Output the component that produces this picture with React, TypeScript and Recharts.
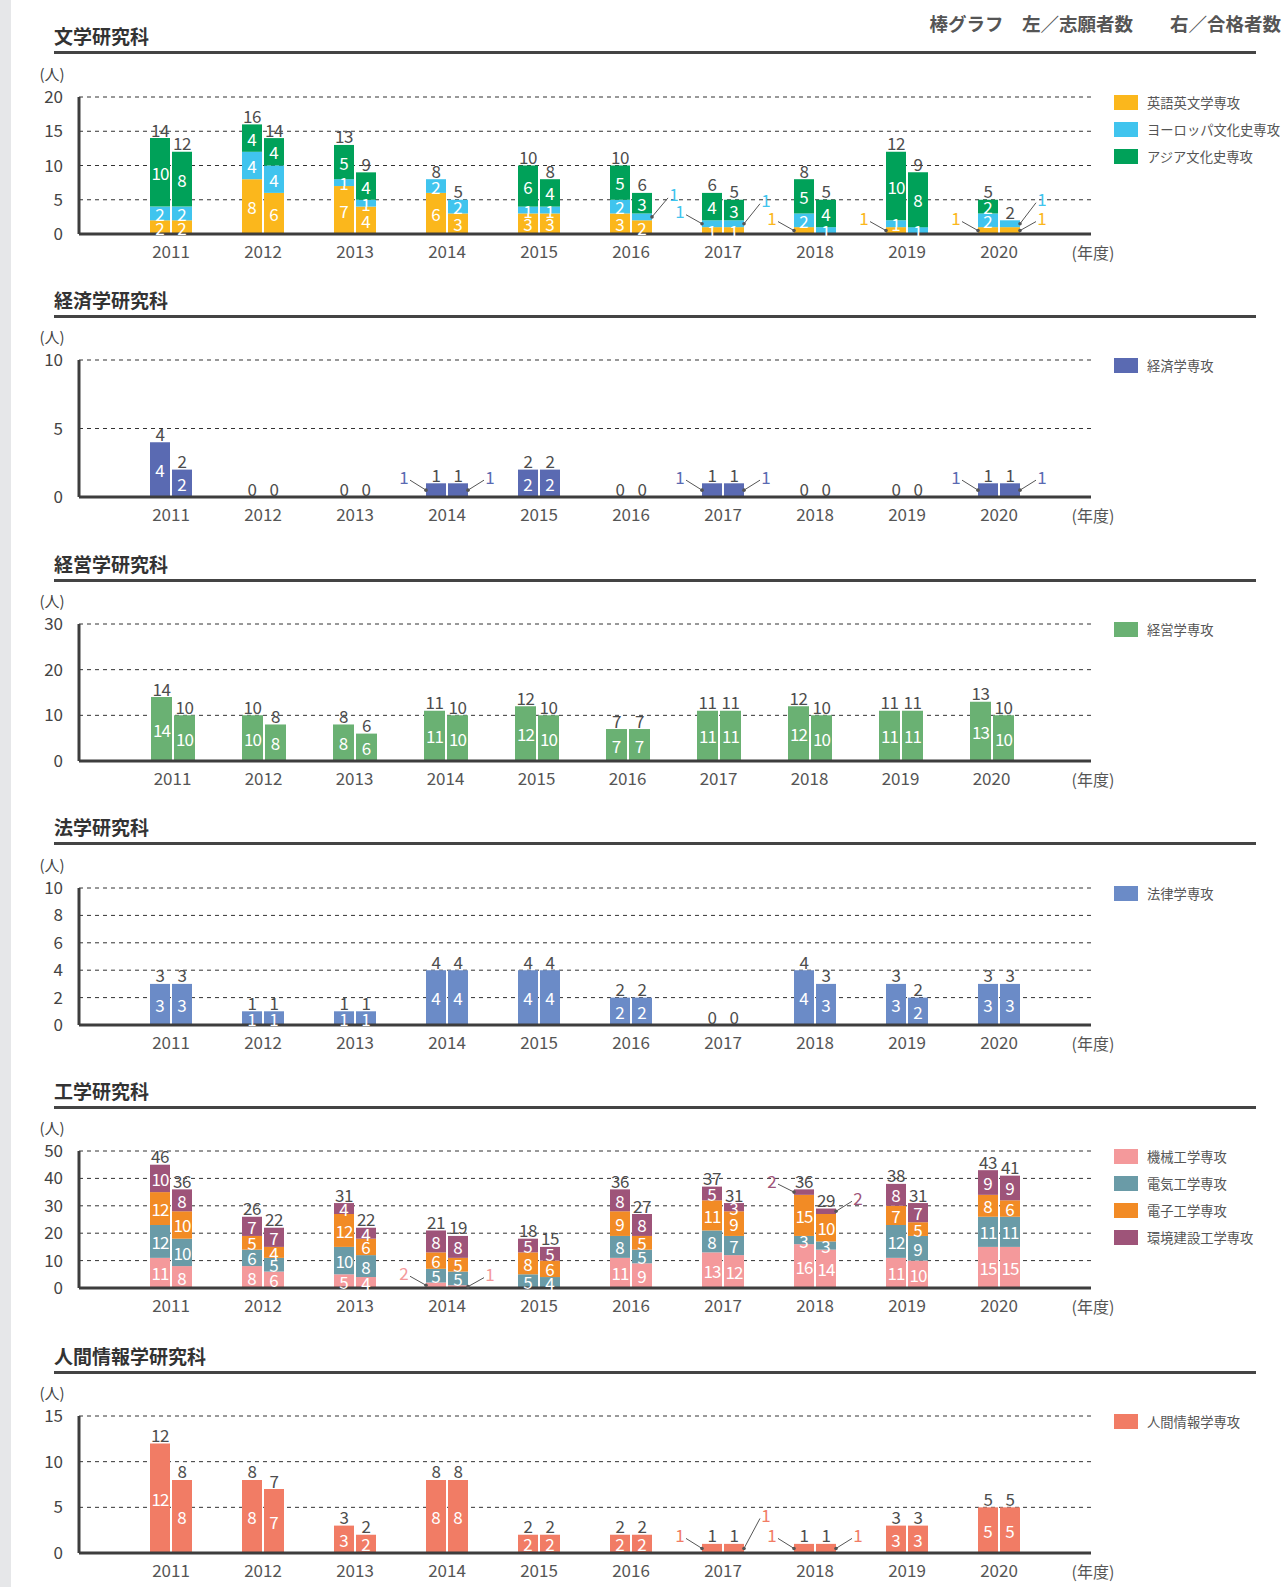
import React from "react";
import { BarChart, Bar, XAxis, YAxis, CartesianGrid, Legend, LabelList, Label } from "recharts";

const FONT = '"Noto Sans CJK JP", "Noto Sans", sans-serif';

const years = ["2011", "2012", "2013", "2014", "2015", "2016", "2017", "2018", "2019", "2020"];

// 文学研究科 (app = 志願者数, pass = 合格者数)
const bunEigoApp = [2, 8, 7, 6, 3, 3, 1, 1, 1, 1];
const bunEigoPass = [2, 6, 4, 3, 3, 2, 1, 0, 0, 1];
const bunEuroApp = [2, 4, 1, 2, 1, 2, 1, 2, 1, 2];
const bunEuroPass = [2, 4, 1, 2, 1, 1, 1, 1, 1, 1];
const bunAsiaApp = [10, 4, 5, 0, 6, 5, 4, 5, 10, 2];
const bunAsiaPass = [8, 4, 4, 0, 4, 3, 3, 4, 8, 0];

// 経済学研究科
const keizaiApp = [4, 0, 0, 1, 2, 0, 1, 0, 0, 1];
const keizaiPass = [2, 0, 0, 1, 2, 0, 1, 0, 0, 1];

// 経営学研究科
const keieiApp = [14, 10, 8, 11, 12, 7, 11, 12, 11, 13];
const keieiPass = [10, 8, 6, 10, 10, 7, 11, 10, 11, 10];

// 法学研究科
const houApp = [3, 1, 1, 4, 4, 2, 0, 4, 3, 3];
const houPass = [3, 1, 1, 4, 4, 2, 0, 3, 2, 3];

// 工学研究科
const kikaiApp = [11, 8, 5, 2, 0, 11, 13, 16, 11, 15];
const kikaiPass = [8, 6, 4, 1, 0, 9, 12, 14, 10, 15];
const denkiApp = [12, 6, 10, 5, 5, 8, 8, 3, 12, 11];
const denkiPass = [10, 5, 8, 5, 4, 5, 7, 3, 9, 11];
const denshiApp = [12, 5, 12, 6, 8, 9, 11, 15, 7, 8];
const denshiPass = [10, 4, 6, 5, 6, 5, 9, 10, 5, 6];
const kankyoApp = [10, 7, 4, 8, 5, 8, 5, 2, 8, 9];
const kankyoPass = [8, 7, 4, 8, 5, 8, 3, 2, 7, 9];
// totals as printed above the bars
const kogakuAppTotals = [46, 26, 31, 21, 18, 36, 37, 36, 38, 43];
const kogakuPassTotals = [36, 22, 22, 19, 15, 27, 31, 29, 31, 41];

// 人間情報学研究科
const ningenApp = [12, 8, 3, 8, 2, 2, 1, 1, 3, 5];
const ningenPass = [8, 7, 2, 8, 2, 2, 1, 1, 3, 5];

type Seg = { key: string; name: string; color: string; app: number[]; pass: number[] };
type Callout = { year: string; side: "a" | "p"; key: string; lift: number };

const bunSegs: Seg[] = [
  { key: "eigo", name: "英語英文学専攻", color: "#fbb71c", app: bunEigoApp, pass: bunEigoPass },
  { key: "euro", name: "ヨーロッパ文化史専攻", color: "#40c4ee", app: bunEuroApp, pass: bunEuroPass },
  { key: "asia", name: "アジア文化史専攻", color: "#00a159", app: bunAsiaApp, pass: bunAsiaPass },
];
const keizaiSegs: Seg[] = [{ key: "keizai", name: "経済学専攻", color: "#5a6ab2", app: keizaiApp, pass: keizaiPass }];
const keieiSegs: Seg[] = [{ key: "keiei", name: "経営学専攻", color: "#6ab173", app: keieiApp, pass: keieiPass }];
const houSegs: Seg[] = [{ key: "hou", name: "法律学専攻", color: "#6b8bc7", app: houApp, pass: houPass }];
const kogakuSegs: Seg[] = [
  { key: "kikai", name: "機械工学専攻", color: "#f4999b", app: kikaiApp, pass: kikaiPass },
  { key: "denki", name: "電気工学専攻", color: "#6a9ba7", app: denkiApp, pass: denkiPass },
  { key: "denshi", name: "電子工学専攻", color: "#f28b25", app: denshiApp, pass: denshiPass },
  { key: "kankyo", name: "環境建設工学専攻", color: "#9e5479", app: kankyoApp, pass: kankyoPass },
];
const ningenSegs: Seg[] = [{ key: "ningen", name: "人間情報学専攻", color: "#f17c65", app: ningenApp, pass: ningenPass }];

// thin segments labelled outside with a leader line
const bunCallouts: Callout[] = [
  { year: "2016", side: "p", key: "euro", lift: 23 },
  { year: "2017", side: "a", key: "euro", lift: 13 },
  { year: "2017", side: "p", key: "euro", lift: 24 },
  { year: "2018", side: "a", key: "eigo", lift: 13 },
  { year: "2019", side: "a", key: "eigo", lift: 13 },
  { year: "2020", side: "a", key: "eigo", lift: 13 },
  { year: "2020", side: "p", key: "euro", lift: 25 },
  { year: "2020", side: "p", key: "eigo", lift: 13 },
];
const keizaiCallouts: Callout[] = ["2014", "2017", "2020"].flatMap((year) => [
  { year, side: "a" as const, key: "keizai", lift: 14 },
  { year, side: "p" as const, key: "keizai", lift: 14 },
]);
const kogakuCallouts: Callout[] = [
  { year: "2014", side: "a", key: "kikai", lift: 13 },
  { year: "2014", side: "p", key: "kikai", lift: 13 },
  { year: "2018", side: "a", key: "kankyo", lift: 12 },
  { year: "2018", side: "p", key: "kankyo", lift: 14 },
];
const ningenCallouts: Callout[] = [
  { year: "2017", side: "a", key: "ningen", lift: 14 },
  { year: "2017", side: "p", key: "ningen", lift: 34 },
  { year: "2018", side: "a", key: "ningen", lift: 14 },
  { year: "2018", side: "p", key: "ningen", lift: 14 },
];

const TOP_M = 40;
const PLOT_H = 137;
const AXIS_H = 30;
const TXT = "#4d4d4d";

function box(lp: any) {
  const vb = lp.viewBox ?? lp;
  const x = Number(vb.x);
  const y = Number(vb.y);
  const w = Number(vb.width);
  const h = Number(vb.height);
  return { x, w, top: Math.min(y, y + h), cy: y + h / 2 };
}

type PanelProps = {
  title: string;
  lineY: number;
  plotTop: number;
  yMax: number;
  ticks: number[];
  segs: Seg[];
  appTotals?: number[];
  passTotals?: number[];
  callouts?: Callout[];
  barSize?: number;
  pad?: [number, number];
};

function Panel(p: PanelProps) {
  const callouts = p.callouts ?? [];
  const rows = years.map((year, i) => {
    // cap_* is an empty carrier at the top of each stack for the total label
    const row: Record<string, string | number> = { year, cap_a: 0, cap_p: 0 };
    p.segs.forEach((s) => {
      row[s.key + "_a"] = s.app[i];
      row[s.key + "_p"] = s.pass[i];
    });
    return row;
  });
  const appTotals = p.appTotals ?? years.map((_, i) => p.segs.reduce((t, s) => t + s.app[i], 0));
  const passTotals = p.passTotals ?? years.map((_, i) => p.segs.reduce((t, s) => t + s.pass[i], 0));
  const pad = p.pad ?? [46, 46];

  const segLabel = (s: Seg, side: "a" | "p") => (lp: any) => {
    const i = years.indexOf(String(lp.value));
    if (i < 0) return null;
    const v = (side === "a" ? s.app : s.pass)[i];
    if (!v) return null;
    const { x, w, cy } = box(lp);
    const c = callouts.find((c) => c.year === years[i] && c.side === side && c.key === s.key);
    if (c) {
      const dir = side === "a" ? -1 : 1;
      const edge = side === "a" ? x : x + w;
      const lx = edge + dir * 22;
      const ly = cy - c.lift;
      return (
        <g>
          <line x1={edge} y1={cy} x2={lx - dir * 6} y2={ly + 4} stroke="#555" strokeWidth={1} />
          <circle cx={edge} cy={cy} r={1.8} fill="#555" />
          <text x={lx} y={ly} textAnchor="middle" dominantBaseline="central" fontSize={17} fill={s.color}>
            {v}
          </text>
        </g>
      );
    }
    return (
      <text
        x={x + w / 2}
        y={cy}
        textAnchor="middle"
        dominantBaseline="central"
        fontSize={17}
        fill="#fff"
        letterSpacing={v >= 10 ? -1 : 0}
      >
        {v}
      </text>
    );
  };

  const totalLabel = (totals: number[]) => (lp: any) => {
    const i = years.indexOf(String(lp.value));
    if (i < 0) return null;
    const { x, w, top } = box(lp);
    return (
      <text x={x + w / 2} y={top - 8} textAnchor="middle" dominantBaseline="central" fontSize={17} fill={TXT} letterSpacing={-0.5}>
        {totals[i]}
      </text>
    );
  };

  const bars = (["a", "p"] as const).flatMap((side) => [
    ...p.segs.map((s) => (
      <Bar key={s.key + side} dataKey={s.key + "_" + side} stackId={side} fill={s.color} isAnimationActive={false}>
        <LabelList dataKey="year" content={segLabel(s, side)} />
      </Bar>
    )),
    <Bar
      key={"cap" + side}
      dataKey={"cap_" + side}
      stackId={side}
      fill="transparent"
      minPointSize={1}
      legendType="none"
      isAnimationActive={false}
    >
      <LabelList dataKey="year" content={totalLabel(side === "a" ? appTotals : passTotals)} />
    </Bar>,
  ]);

  return (
    <>
      <div
        style={{
          position: "absolute",
          left: 54,
          top: p.lineY - 29,
          fontSize: 19,
          fontWeight: 700,
          color: "#333",
          lineHeight: "26px",
          whiteSpace: "nowrap",
        }}
      >
        {p.title}
      </div>
      <div style={{ position: "absolute", left: 54, top: p.lineY - 1, width: 1202, height: 3, background: "#444" }} />
      <div style={{ position: "absolute", left: 0, top: p.plotTop - TOP_M }}>
        <BarChart
          width={1284}
          height={TOP_M + PLOT_H + AXIS_H}
          data={rows}
          margin={{ top: TOP_M, right: 193, bottom: 0, left: 39 }}
          barSize={p.barSize ?? 20}
          barGap={2}
        >
          <CartesianGrid vertical={false} stroke="#333" strokeDasharray="4 4" />
          <XAxis
            dataKey="year"
            height={AXIS_H}
            padding={{ left: pad[0], right: pad[1] }}
            tickLine={false}
            tickSize={0}
            tickMargin={12}
            tick={{ fontSize: 17, fill: "#555" }}
            axisLine={{ stroke: "#3d3d3d", strokeWidth: 3 }}
          >
            <Label
              content={(lp: any) => {
                const vb = lp.viewBox ?? {};
                return (
                  <text
                    x={Number(vb.x) + Number(vb.width) + 2}
                    y={Number(vb.y) + 18}
                    textAnchor="middle"
                    dominantBaseline="central"
                    fontSize={16}
                    fill="#555"
                  >
                    (年度)
                  </text>
                );
              }}
            />
          </XAxis>
          <YAxis
            width={40}
            domain={[0, p.yMax]}
            ticks={p.ticks}
            interval={0}
            tickLine={false}
            tickSize={0}
            tickMargin={16}
            tick={{ fontSize: 17, fill: "#444" }}
            axisLine={{ stroke: "#3d3d3d", strokeWidth: 3 }}
          >
            <Label
              content={() => (
                <text x={52} y={TOP_M - 24} textAnchor="middle" dominantBaseline="central" fontSize={15} fill="#444">
                  (人)
                </text>
              )}
            />
          </YAxis>
          <YAxis
            yAxisId="right"
            orientation="right"
            width={0}
            domain={[0, p.yMax]}
            ticks={p.ticks}
            tick={false}
            tickLine={false}
            axisLine={{ stroke: "#444", strokeWidth: 2 }}
          />
          <Legend
            layout="vertical"
            align="center"
            verticalAlign="middle"
            wrapperStyle={{ left: 1114, top: TOP_M + 5 - 13.5, width: 170 }}
            content={() => (
              <div>
                {p.segs.map((s) => (
                  <div key={s.key} style={{ display: "flex", alignItems: "center", height: 27 }}>
                    <span style={{ display: "inline-block", width: 24, height: 15, background: s.color }} />
                    <span style={{ marginLeft: 9, fontSize: 13.3, color: "#555", whiteSpace: "nowrap" }}>{s.name}</span>
                  </div>
                ))}
              </div>
            )}
          />
          {bars}
        </BarChart>
      </div>
    </>
  );
}

export default function App() {
  return (
    <div
      style={{
        position: "absolute",
        left: 0,
        top: 0,
        width: 1284,
        height: 1587,
        background: "#fff",
        fontFamily: FONT,
        overflow: "hidden",
      }}
    >
      <div style={{ position: "absolute", left: 0, top: 0, width: 11, height: 1587, background: "#e6e7e9" }} />
      <div
        style={{
          position: "absolute",
          left: 860,
          top: 11,
          width: 421,
          textAlign: "right",
          fontSize: 18.5,
          fontWeight: 700,
          color: "#555",
          lineHeight: "24px",
          whiteSpace: "pre",
        }}
      >
        棒グラフ　左／志願者数　　右／合格者数
      </div>
      <Panel title="文学研究科" lineY={52} plotTop={97} yMax={20} ticks={[0, 5, 10, 15, 20]} segs={bunSegs} callouts={bunCallouts} />
      <Panel title="経済学研究科" lineY={316} plotTop={360} yMax={10} ticks={[0, 5, 10]} segs={keizaiSegs} callouts={keizaiCallouts} />
      <Panel
        title="経営学研究科"
        lineY={580}
        plotTop={624}
        yMax={30}
        ticks={[0, 10, 20, 30]}
        segs={keieiSegs}
        barSize={21}
        pad={[48, 54]}
      />
      <Panel title="法学研究科" lineY={843} plotTop={888} yMax={10} ticks={[0, 2, 4, 6, 8, 10]} segs={houSegs} />
      <Panel
        title="工学研究科"
        lineY={1107}
        plotTop={1151}
        yMax={50}
        ticks={[0, 10, 20, 30, 40, 50]}
        segs={kogakuSegs}
        appTotals={kogakuAppTotals}
        passTotals={kogakuPassTotals}
        callouts={kogakuCallouts}
      />
      <Panel
        title="人間情報学研究科"
        lineY={1372}
        plotTop={1416}
        yMax={15}
        ticks={[0, 5, 10, 15]}
        segs={ningenSegs}
        callouts={ningenCallouts}
      />
    </div>
  );
}
